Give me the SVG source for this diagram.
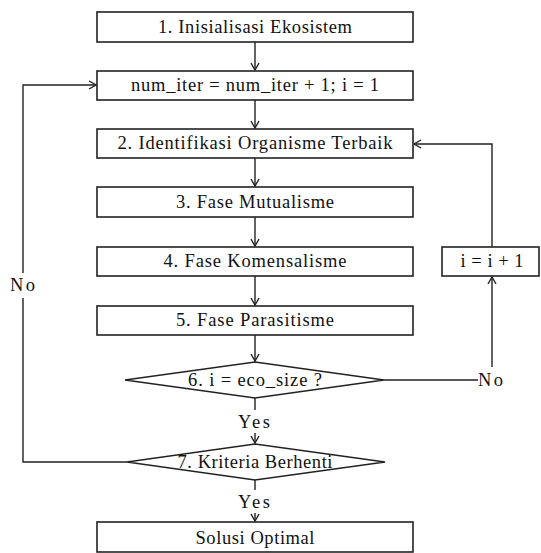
<svg xmlns="http://www.w3.org/2000/svg" width="541" height="553" viewBox="0 0 541 553">
<style>
.box{fill:#fff;stroke:#222;stroke-width:1.6}
.ln{fill:none;stroke:#222;stroke-width:1.4}
.t{font-family:"Liberation Serif","Times New Roman",serif;font-size:18.5px;fill:#111;text-anchor:middle}
</style>
<defs>
<marker id="ar" markerUnits="userSpaceOnUse" markerWidth="12" markerHeight="12" refX="8" refY="5" orient="auto">
<path d="M1,1 L8,5 L1,9" fill="none" stroke="#222" stroke-width="1.4"/>
</marker>
</defs>
<rect width="541" height="553" fill="#fff"/>
<g id="connectors">
<line class="ln" x1="255" y1="42" x2="255" y2="70" marker-end="url(#ar)"/>
<line class="ln" x1="255" y1="100" x2="255" y2="128" marker-end="url(#ar)"/>
<line class="ln" x1="255" y1="158" x2="255" y2="186" marker-end="url(#ar)"/>
<line class="ln" x1="255" y1="217" x2="255" y2="246" marker-end="url(#ar)"/>
<line class="ln" x1="255" y1="276" x2="255" y2="305" marker-end="url(#ar)"/>
<line class="ln" x1="255" y1="335" x2="255" y2="361" marker-end="url(#ar)"/>
<line class="ln" x1="255" y1="398" x2="255" y2="410"/>
<line class="ln" x1="255" y1="433" x2="255" y2="443" marker-end="url(#ar)"/>
<line class="ln" x1="255" y1="480" x2="255" y2="490"/>
<line class="ln" x1="255" y1="513" x2="255" y2="521" marker-end="url(#ar)"/>
<polyline class="ln" points="127,462 23,462 23,298"/>
<polyline class="ln" points="23,273 23,85 96,85" marker-end="url(#ar)"/>
<line class="ln" x1="384" y1="380" x2="478" y2="380"/>
<line class="ln" x1="492" y1="367" x2="492" y2="277" marker-end="url(#ar)"/>
<polyline class="ln" points="492,247 492,144 414,144" marker-end="url(#ar)"/>
<text class="t" x="254" y="428" textLength="32" lengthAdjust="spacing">Yes</text>
<text class="t" x="254" y="508" textLength="32" lengthAdjust="spacing">Yes</text>
<text class="t" x="22.5" y="291" textLength="25" lengthAdjust="spacing">No</text>
<text class="t" x="490.5" y="386" textLength="25" lengthAdjust="spacing">No</text>
</g>
<g id="n1"><rect class="box" x="97" y="12" width="316" height="30"/><text class="t" x="255" y="33" textLength="194" lengthAdjust="spacing">1. Inisialisasi Ekosistem</text></g>
<g id="n_iter"><rect class="box" x="97" y="71" width="316" height="29"/><text class="t" x="255" y="91" textLength="248" lengthAdjust="spacing">num_iter = num_iter + 1; i = 1</text></g>
<g id="n2"><rect class="box" x="97" y="129" width="316" height="29"/><text class="t" x="255" y="149" textLength="275" lengthAdjust="spacing">2. Identifikasi Organisme Terbaik</text></g>
<g id="n3"><rect class="box" x="97" y="187" width="316" height="30"/><text class="t" x="255" y="208" textLength="158" lengthAdjust="spacing">3. Fase Mutualisme</text></g>
<g id="n4"><rect class="box" x="97" y="247" width="316" height="29"/><text class="t" x="255" y="267" textLength="183" lengthAdjust="spacing">4. Fase Komensalisme</text></g>
<g id="n5"><rect class="box" x="97" y="306" width="316" height="29"/><text class="t" x="255" y="326" textLength="158" lengthAdjust="spacing">5. Fase Parasitisme</text></g>
<g id="n6"><polygon class="box" points="125,380 255,362 384,380 255,398"/><text class="t" x="255" y="386" textLength="134" lengthAdjust="spacing">6. i = eco_size ?</text></g>
<g id="n7"><polygon class="box" points="127,462 255,444 385,462 255,480"/><text class="t" x="255" y="468" textLength="155" lengthAdjust="spacing">7. Kriteria Berhenti</text></g>
<g id="n_inc"><rect class="box" x="442" y="247" width="97" height="29"/><text class="t" x="492" y="267" textLength="63" lengthAdjust="spacing">i = i + 1</text></g>
<g id="n_sol"><rect class="box" x="97" y="522" width="316" height="30"/><text class="t" x="255" y="544" textLength="119" lengthAdjust="spacing">Solusi Optimal</text></g>
</svg>
